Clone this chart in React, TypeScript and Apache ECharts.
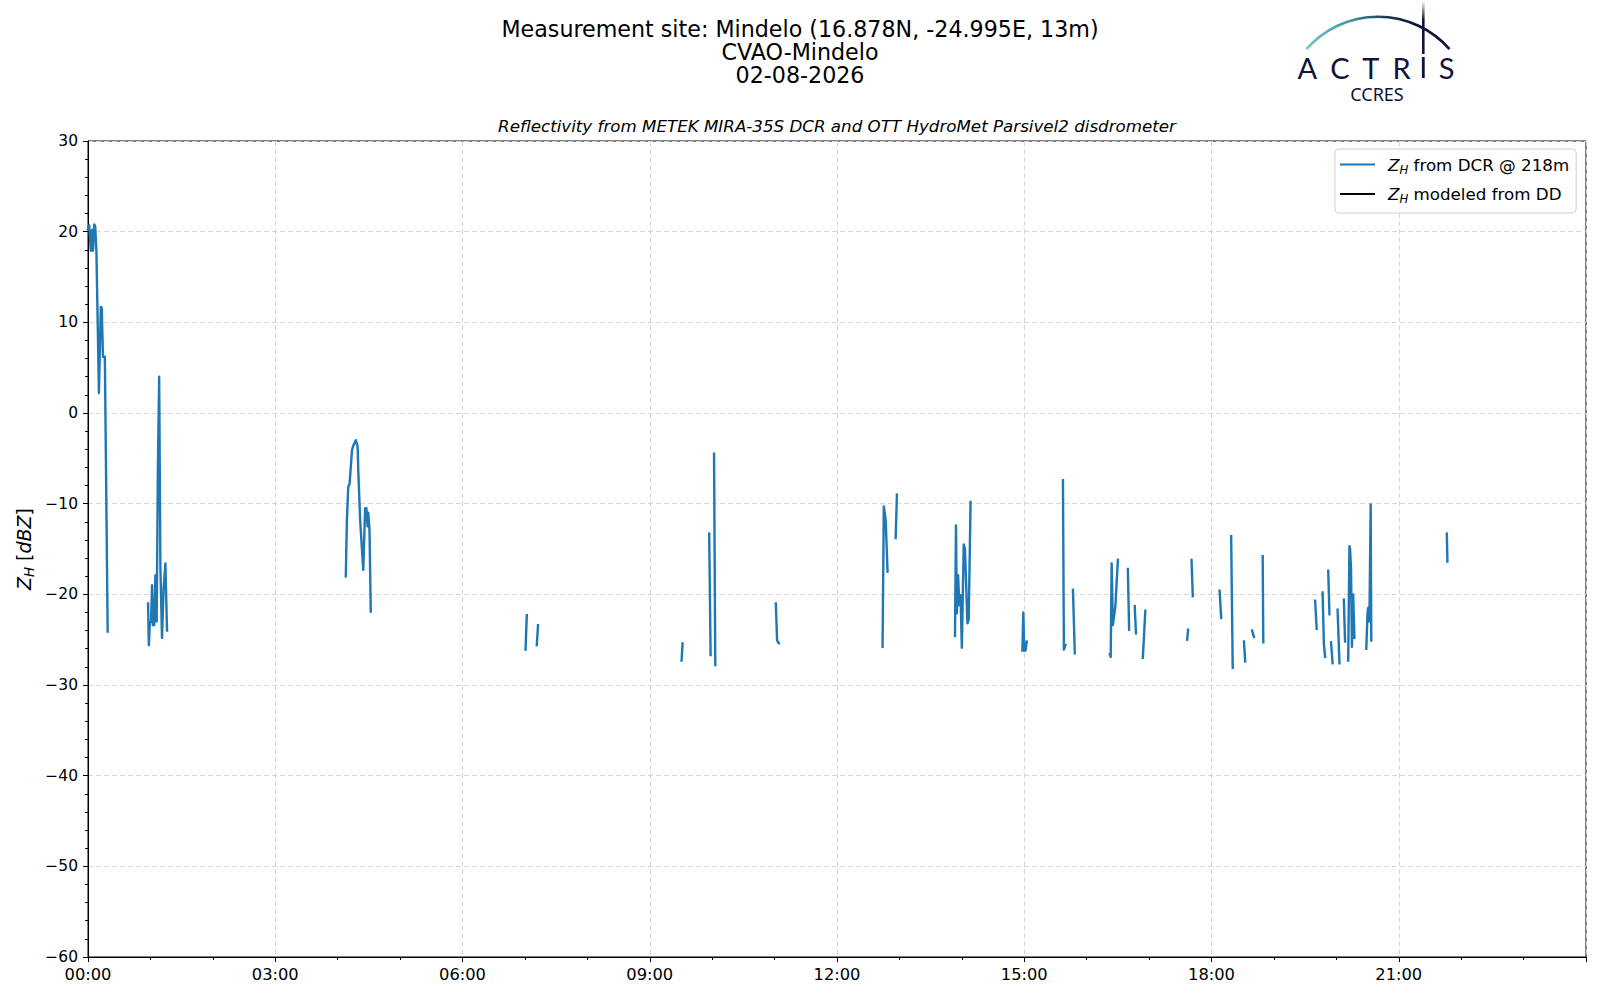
import React, { useEffect, useRef } from 'react';
import * as echarts from 'echarts';

// ---- Data: Z_H from DCR @ 218m, [hour of day, dBZ]; null = gap in record ----
const dcr00h = [
  [0.0, 20.3], [0.02, 20.7], [0.045, 17.9], [0.065, 20.2], [0.08, 17.9], [0.1, 20.8], [0.115, 20.6],
  [0.135, 17.8], [0.175, 2.2], [0.205, 11.7], [0.22, 11.6], [0.24, 6.2], [0.27, 6.2], [0.315, -24.1],
];
const dcr01h = [
  [0.962, -21.0], [0.975, -25.6], [0.99, -23.2], [1.01, -23.0], [1.026, -19.0], [1.04, -23.4], [1.06, -23.4],
  [1.08, -17.9], [1.1, -23.0], [1.12, -5.9], [1.14, 4.0], [1.16, -17.0], [1.186, -24.8], [1.21, -19.5],
  [1.24, -16.6], [1.266, -24.0],
];
const dcr04h = [
  [4.13, -18.0], [4.148, -11.8], [4.17, -8.1], [4.19, -7.9], [4.23, -4.1], [4.25, -3.6], [4.29, -3.0],
  [4.32, -3.7], [4.33, -6.3], [4.36, -11.8], [4.41, -17.3], [4.44, -10.5], [4.46, -10.5], [4.48, -12.5],
  [4.49, -11.0], [4.51, -12.9], [4.53, -21.9],
];
const dcr07h = [[7.01, -26.1], [7.03, -22.3], null, [7.19, -25.6], [7.21, -23.4]];
const dcr09h = [[9.51, -27.3], [9.526, -25.4], null, [9.952, -13.3], [9.975, -26.7]];
const dcr10h = [[10.03, -4.5], [10.05, -27.8]];
const dcr11h = [[11.02, -21.0], [11.04, -25.1], [11.07, -25.4]];
const dcr12h = [[12.73, -25.8], [12.75, -10.3], [12.78, -11.8], [12.81, -17.5], null, [12.94, -13.8], [12.96, -9.0]];
const dcr13h = [
  [13.89, -24.6], [13.906, -12.4], [13.92, -22.1], [13.94, -17.9], [13.96, -21.2], [13.98, -20.1],
  [14.0, -25.9], [14.03, -14.5], [14.05, -15.0], [14.09, -23.2], [14.11, -22.8], [14.14, -9.8],
];
const dcr15h = [
  [14.97, -26.2], [14.985, -22.0], [15.0, -26.2], [15.02, -26.2], [15.04, -25.2], null,
  [15.62, -7.4], [15.635, -26.1], [15.66, -25.6], null, [15.78, -19.5], [15.81, -26.5],
];
const dcr16h = [
  [16.37, -26.6], [16.385, -26.9], [16.4, -16.6], [16.42, -23.4], [16.46, -21.3], [16.5, -16.2], null,
  [16.66, -17.2], [16.68, -23.9], null, [16.77, -21.3], [16.79, -24.3], null, [16.9, -27.0], [16.94, -21.8],
];
const dcr17h = [[17.61, -25.0], [17.625, -23.9], null, [17.68, -16.2], [17.7, -20.2]];
const dcr18h = [
  [18.13, -19.6], [18.155, -22.6], null, [18.315, -13.6], [18.34, -28.1], null, [18.52, -25.2], [18.54, -27.4],
  null, [18.65, -24.0], [18.68, -24.7], null, [18.82, -15.8], [18.83, -25.3],
];
const dcr19h = [
  [19.66, -20.7], [19.685, -23.8], null, [19.78, -19.8], [19.8, -25.4], [19.82, -26.9], null,
  [19.87, -17.4], [19.89, -22.2], null, [19.915, -25.3], [19.94, -27.6],
];
const dcr20h = [
  [20.02, -21.7], [20.05, -27.6], null, [20.12, -20.6], [20.14, -25.2], null,
  [20.19, -27.3], [20.21, -14.7], [20.22, -15.0], [20.235, -17.1], [20.25, -25.8], [20.27, -20.0], [20.29, -24.8], null,
  [20.48, -26.0], [20.5, -22.0], [20.51, -21.5], [20.53, -23.0], [20.55, -10.1], [20.56, -25.1],
];
const dcr21h = [[21.77, -13.3], [21.78, -16.4]];
const dcrGroups = [dcr00h, dcr01h, dcr04h, dcr07h, dcr09h, dcr10h, dcr11h, dcr12h, dcr13h, dcr15h, dcr16h, dcr17h, dcr18h, dcr19h, dcr20h, dcr21h];

// modeled Z_H from disdrometer: no data on this day
const ddModeled: number[][] = [];

// axes
const xRange = [0, 24];
const xStepHours = 3;
const yRange = [-60, 30];
const yStep = 10;

const titleLines = ['Measurement site: Mindelo (16.878N, -24.995E, 13m)', 'CVAO-Mindelo', '02-08-2026'];
const subTitle = 'Reflectivity from METEK MIRA-35S DCR and OTT HydroMet Parsivel2 disdrometer';
const seriesNames = ['dcr', 'dd'];
const legendTexts = [' from DCR @ 218m', ' modeled from DD'];

const FONT = 'DejaVu Sans';
const NAVY = '#111339';

function buildLine(groups: (number[] | null)[][]) {
  const out: any[] = [];
  groups.forEach((g, gi) => {
    if (gi > 0) out.push(['-', '-']);
    g.forEach((p) => out.push(p === null ? ['-', '-'] : p));
  });
  return out;
}

const App: React.FC = () => {
  const ref = useRef<HTMLDivElement>(null);
  useEffect(() => {
    document.body.style.margin = '0';
    if (!ref.current) return;
    const chart = echarts.init(ref.current, null, { renderer: 'svg' });

    const pad2 = (n: number) => (n < 10 ? '0' + n : '' + n);
    const zStyles = {
      z: { fontSize: 16.7, fontStyle: 'italic', fontFamily: FONT, color: '#000', lineHeight: 22 },
      h: { fontSize: 11.7, fontStyle: 'italic', fontFamily: FONT, color: '#000', lineHeight: 12, verticalAlign: 'bottom' },
      t: { fontSize: 16.7, fontFamily: FONT, color: '#000', lineHeight: 22 },
    };

    const letters = [
      ['A', 1307.3], ['C', 1340], ['T', 1370.7], ['R', 1401.7], ['S', 1446.7],
    ];

    const graphic: any[] = [
      ...titleLines.map((t, i) => ({
        type: 'text', x: 800, y: 28.5 + i * 23.3,
        style: { text: t, fontSize: 22.2, fontFamily: FONT, fill: '#000', align: 'center', verticalAlign: 'middle' },
      })),
      {
        type: 'text', x: 837, y: 126,
        style: { text: subTitle, fontSize: 16.7, fontStyle: 'italic', fontFamily: FONT, fill: '#000', align: 'center', verticalAlign: 'middle' },
      },
      {
        type: 'text', x: 24, y: 549, rotation: Math.PI / 2,
        style: {
          text: '{z|Z}{h|H}{t| [}{z|dBZ}{t|]}', align: 'center', verticalAlign: 'middle',
          rich: {
            z: { fontSize: 19, fontStyle: 'italic', fontFamily: FONT, fill: '#000', lineHeight: 24 },
            h: { fontSize: 13.3, fontStyle: 'italic', fontFamily: FONT, fill: '#000', lineHeight: 13, verticalAlign: 'bottom' },
            t: { fontSize: 19, fontFamily: FONT, fill: '#000', lineHeight: 24 },
          },
        },
      },
      // ACTRIS logo
      {
        type: 'arc',
        shape: { cx: 1378, cy: 111.9, r: 95.2, startAngle: -2.421, endAngle: -0.7206, clockwise: true },
        style: {
          fill: null, lineWidth: 2.6,
          stroke: new echarts.graphic.LinearGradient(1306, 0, 1450, 0, [
            { offset: 0, color: '#74c9c6' },
            { offset: 0.3, color: '#3e9aa3' },
            { offset: 0.55, color: '#1b3d5a' },
            { offset: 0.75, color: NAVY },
            { offset: 1, color: NAVY },
          ], true),
        },
      },
      {
        type: 'line',
        shape: { x1: 1423.3, y1: 1, x2: 1423.3, y2: 54 },
        style: {
          lineWidth: 2.6,
          stroke: new echarts.graphic.LinearGradient(0, 1, 0, 54, [
            { offset: 0, color: 'rgba(17,19,57,0)' },
            { offset: 0.35, color: NAVY },
            { offset: 1, color: NAVY },
          ], true),
        },
      },
      {
        type: 'line',
        shape: { x1: 1423.3, y1: 57, x2: 1423.3, y2: 78 },
        style: { lineWidth: 2.8, stroke: NAVY },
      },
      ...letters.map(([ch, x]) => ({
        type: 'text', x: x as number, y: 67,
        style: { text: ch as string, fontSize: 29, lineHeight: 22, fontFamily: 'Lato', fill: NAVY, align: 'center', verticalAlign: 'middle' },
      })),
      {
        type: 'text', x: 1377, y: 94,
        style: { text: 'CCRES', fontSize: 18, lineHeight: 17, fontFamily: 'Noto Sans', fill: NAVY, align: 'center', verticalAlign: 'middle' },
      },
    ];

    const option: any = {
      animation: false,
      backgroundColor: '#ffffff',
      grid: {
        left: 88, top: 141, right: 14, bottom: 43,
        show: true, borderColor: '#000', borderWidth: 1, backgroundColor: 'transparent',
      },
      xAxis: {
        type: 'value', min: xRange[0], max: xRange[1], interval: xStepHours,
        axisLine: { show: true, onZero: false, lineStyle: { color: '#000', width: 1 } },
        axisTick: { show: true, length: 5, lineStyle: { color: '#000', width: 1 } },
        minorTick: { show: true, splitNumber: 3, length: 3, lineStyle: { color: '#000', width: 1 } },
        axisLabel: {
          margin: 9, fontSize: 16.3, color: '#000', fontFamily: FONT,
          formatter: (v: number) => (v >= 24 ? '' : pad2(v) + ':00'),
        },
        splitLine: { show: true, lineStyle: { color: '#d6d6d6', width: 1, type: [5, 3] } },
      },
      yAxis: {
        type: 'value', min: yRange[0], max: yRange[1], interval: yStep,
        axisLine: { show: true, onZero: false, lineStyle: { color: '#000', width: 1 } },
        axisTick: { show: true, length: 5, lineStyle: { color: '#000', width: 1 } },
        minorTick: { show: true, splitNumber: 5, length: 3, lineStyle: { color: '#000', width: 1 } },
        axisLabel: {
          margin: 10, fontSize: 15.5, color: '#000', fontFamily: FONT,
          formatter: (v: number) => (v < 0 ? '\u2212' + Math.abs(v) : String(v)),
        },
        splitLine: { show: true, lineStyle: { color: '#d6d6d6', width: 1, type: [5, 3] } },
      },
      legend: {
        orient: 'vertical', left: 1335, top: 149,
        padding: [7, 7, 8, 5],
        itemWidth: 35, itemHeight: 2, itemGap: 10, icon: 'rect',
        borderColor: '#cfcfcf', borderWidth: 1, borderRadius: 4, backgroundColor: 'rgba(255,255,255,0.8)',
        textStyle: { padding: [0, 0, 0, 8], rich: zStyles },
        formatter: (name: string) => '{z|Z}{h|H}{t|' + legendTexts[seriesNames.indexOf(name)] + '}',
        data: seriesNames,
      },
      graphic,
      series: [
        {
          name: seriesNames[0], type: 'line', color: '#1f77b4', showSymbol: false, symbol: 'none',
          connectNulls: false, clip: true,
          lineStyle: { color: '#1f77b4', width: 2.4, join: 'round', cap: 'square' },
          data: buildLine(dcrGroups),
        },
        {
          name: seriesNames[1], type: 'line', color: '#000000', showSymbol: false, symbol: 'none',
          lineStyle: { color: '#000', width: 2.4 },
          data: ddModeled,
        },
      ],
    };
    chart.setOption(option);
    return () => chart.dispose();
  }, []);
  return <div ref={ref} style={{ width: 1600, height: 1000 }} />;
};

export default App;
